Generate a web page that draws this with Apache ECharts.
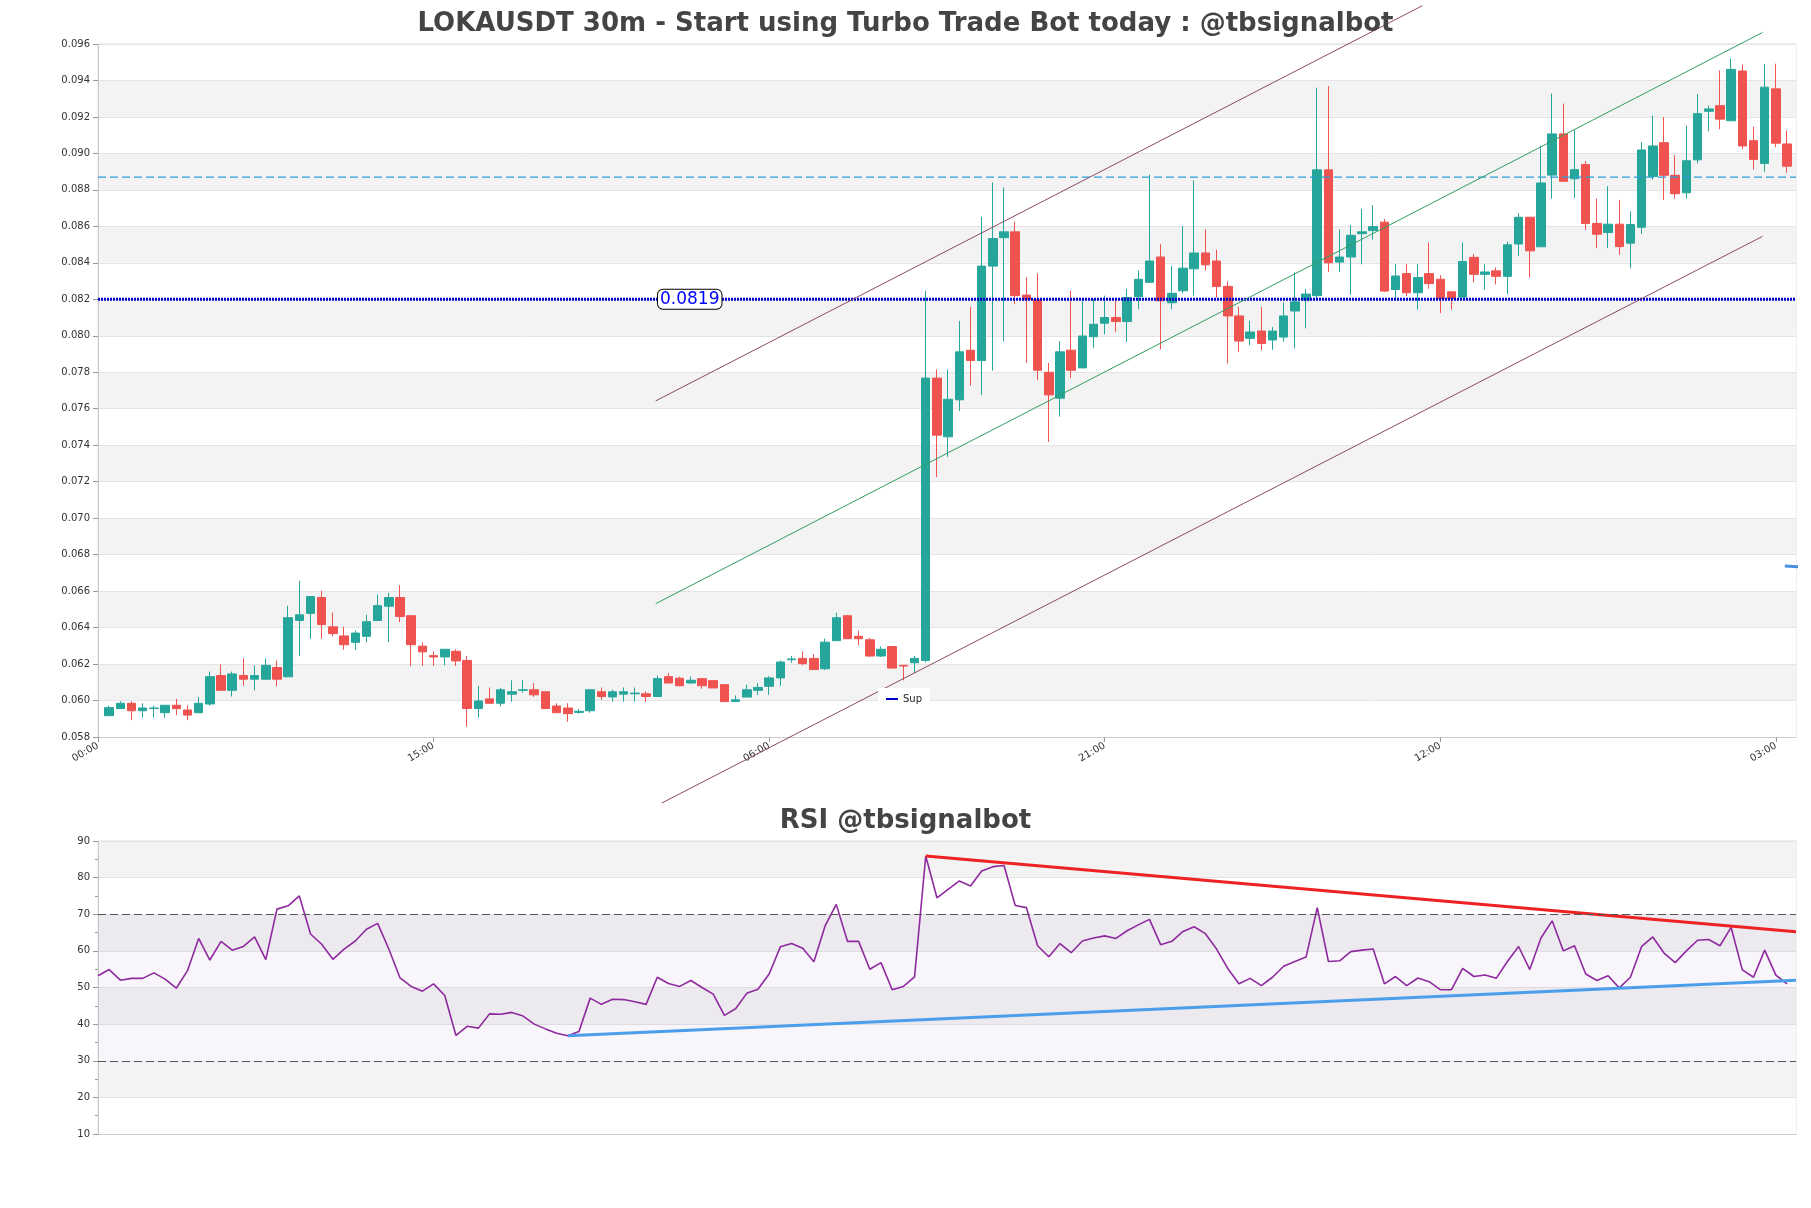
<!DOCTYPE html>
<html>
<head>
<meta charset="utf-8">
<script src="https://cdn.jsdelivr.net/npm/echarts@6/dist/echarts.min.js"></script>
<style>html,body{margin:0;padding:0;background:#fff}#main{width:1811px;height:1208px}</style>
</head>
<body>
<div id="main"></div>
<script>
// candles, 30m, first candle at 00:30 on the first day
var opens = [.05917,.05956,.05985,.05944,.05956,.05933,.05974,.05948,.05933,.05981,.06137,.06056,.06137,.06117,.06117,.06181,.0613,.06439,.06478,.06565,
.06404,.06354,.06319,.06352,.06439,.06517,.06565,.06465,.06298,.06246,.06239,.0627,.0622,.05956,.06009,.05985,.06035,.06056,.06059,.06048,
.0597,.05959,.05935,.05944,.06048,.0602,.06035,.06037,.06037,.06022,.06131,.06122,.06096,.0612,.06109,.06087,.05995,.06019,.06056,.06078,
.06124,.06224,.06231,.06231,.06174,.06328,.06465,.06352,.06333,.06244,.06296,.06193,.06207,.0622,
.07768,.07446,.07649,.07921,.07864,.08382,.08538,.0857,.08223,.08198,.078,.07658,.07921,.07824,.07995,.08069,.081,.08078,.08214,.08293,
.08432,.08181,.08247,.08367,.08454,.0841,.08271,.08109,.07986,.08026,.07977,.07993,.08136,.08196,.0822,.0891,.08404,.08432,.0856,.08577,
.08623,.08254,.08341,.08236,.08341,.0831,.08241,.08212,.0843,.08337,.08356,.08326,.08503,.0865,.08488,.08881,.09107,.08861,.08939,.08616,
.08566,.08612,.08508,.08595,.08874,.09059,.0888,.08784,.08965,.09231,.09262,.09179,.09452,.0907,.08945,.09354,.09052];
var closes = [.05961,.05985,.05944,.05959,.05959,.05974,.05956,.0592,.05985,.06131,.06056,.06146,.06117,.06137,.06193,.06117,.06454,.0647,.0657,.06417,
.06367,.06306,.0637,.06432,.0652,.06565,.06461,.06306,.06267,.06239,.06281,.06217,.05956,.05998,.05985,.06059,.06048,.06059,.06031,.05956,
.05933,.05928,.05941,.06059,.06022,.06048,.06048,.06041,.06022,.0612,.06096,.06081,.06111,.06081,.06069,.05994,.06004,.06059,.06072,.06124,
.06211,.06228,.06202,.0617,.0632,.06454,.06339,.06339,.06244,.06281,.06178,.06189,.06231,.07768,
.07455,.07652,.07912,.07864,.08382,.08533,.0857,.0822,.08198,.07811,.07676,.07912,.07811,.07999,.08063,.081,.08078,.0821,.0831,.0841,
.08192,.08233,.08371,.08454,.08389,.0827,.08109,.07971,.08021,.07958,.08026,.08109,.08186,.08229,.0891,.0840,.08432,.08551,.0857,.08599,
.08245,.08328,.08236,.08319,.08286,.08205,.08205,.08407,.08337,.0835,.08326,.08499,.0865,.08466,.08838,.09107,.08847,.08911,.08616,.08557,
.08612,.08489,.0861,.09019,.09041,.0888,.08779,.0896,.09218,.09244,.09188,.09461,.09041,.08967,.09363,.09056,.0893];
var lows = [.05917,.05956,.05893,.05906,.05906,.05906,.0592,.05893,.05933,.05972,.06056,.06022,.06081,.06056,.06117,.06078,.0613,.06244,.06339,.06339,
.06352,.06278,.06278,.06319,.06439,.0632,.0643,.06189,.06189,.06189,.06193,.06189,.05856,.05906,.05985,.05967,.05994,.06044,.0602,.05956,
.05933,.05883,.05928,.05933,.06004,.05994,.05994,.05994,.05994,.06022,.06096,.06078,.06093,.06065,.06069,.05994,.05994,.06019,.06031,.06031,
.06081,.06207,.06193,.06167,.06167,.06328,.06339,.06304,.06239,.06239,.06178,.06111,.06152,.0621,
.07225,.07336,.07588,.07726,.07676,.07809,.0797,.08174,.07851,.07756,.07418,.07557,.07768,.07824,.07934,.08008,.08022,.07966,.08146,.08293,
.07925,.08146,.08233,.0822,.08358,.0821,.07848,.07911,.07949,.07921,.07923,.07969,.0793,.08041,.0820,.08349,.08349,.08225,.08392,.08528,
.08241,.08199,.08217,.08144,.08258,.08125,.08143,.08212,.08293,.08254,.08282,.08228,.08437,.08319,.08488,.08752,.08847,.08755,.0858,.08481,
.08481,.08444,.08371,.08558,.08856,.08745,.08751,.08751,.08946,.09122,.09133,.09179,.09023,.08912,.08899,.09034,.08894];
var highs = [.05972,.05996,.05996,.05985,.05972,.05974,.06009,.05974,.0602,.06159,.06198,.06159,.06231,.06193,.06231,.0622,.0652,.06656,.0657,.06602,
.06482,.06404,.06383,.0647,.06581,.06591,.06633,.06465,.06319,.0627,.06281,.06281,.06244,.06081,.06072,.06069,.06111,.06111,.06096,.06048,
.05985,.05985,.05954,.06059,.06072,.06059,.06072,.06072,.0605,.06137,.0615,.06131,.06131,.0612,.06109,.06087,.06028,.06087,.06096,.06133,
.0622,.06244,.0627,.06254,.06339,.06482,.0647,.06383,.06343,.06296,.06296,.06193,.06244,.08247,
.07815,.07815,.08082,.08159,.08653,.08841,.08813,.08625,.08321,.08343,.07851,.07971,.08247,.08207,.08201,.0822,.08192,.08257,.08358,.08883,
.08502,.08382,.08601,.08852,.08583,.08472,.08299,.08159,.08082,.08159,.08048,.08183,.08348,.08257,.0936,.0937,.08583,.08607,.08696,.08717,
.08641,.08393,.08393,.08393,.08512,.08332,.08241,.08512,.08449,.08393,.08374,.08517,.08672,.0865,.09042,.09328,.09273,.09127,.08958,.08752,
.0882,.08745,.08683,.09061,.09208,.09199,.0899,.09153,.09326,.09262,.09455,.0952,.09488,.09146,.0949,.09492,.09125];

// RSI, one point per candle, first point one bar before the first candle
var rsi = [53.2,54.9,52.0,52.5,52.5,54.0,52.3,49.8,54.6,63.4,57.5,62.6,60.2,61.2,63.8,57.6,71.4,72.3,75.0,64.6,
61.8,57.7,60.5,62.7,65.9,67.5,60.5,52.6,50.3,49.0,51.0,47.8,36.9,39.4,38.9,42.8,42.7,43.2,42.2,40.0,
38.7,37.5,36.8,38.0,47.1,45.4,46.8,46.7,46.1,45.4,52.8,51.1,50.3,51.9,50.0,48.2,42.4,44.2,48.4,49.5,
53.7,61.1,62.0,60.7,57.0,66.8,72.7,62.6,62.6,55.0,56.8,49.4,50.3,52.9,85.9,74.5,76.8,79.1,77.7,
81.8,83.0,83.3,72.4,71.8,61.4,58.4,62.0,59.5,62.7,63.5,64.1,63.4,65.5,67.1,68.6,61.7,62.6,65.3,66.6,
64.7,60.5,55.2,51.0,52.5,50.5,52.8,55.8,57.1,58.3,71.8,57.1,57.3,59.8,60.2,60.5,51.0,
53.0,50.5,52.6,51.6,49.4,49.4,55.2,53.0,53.4,52.5,57.1,61.2,54.9,63.5,68.2,60.0,61.4,53.7,51.9,53.2,
49.9,52.8,61.2,63.8,59.4,56.8,60.0,62.9,63.1,61.4,66.4,54.8,52.8,60.2,53.4,51.0];

var supLevel = 0.0820;
var supLabel = '0.0819';
var resLevel = 0.0887;
var channelUpper = [[24.93, 0.07643], [59.2, 0.09810]];
var channelMid = [[24.93, 0.06531], [74.4, 0.09663]];
var channelLower = [[25.2, 0.05438], [74.4, 0.08545]];
var edgeMark = [[75.4, 0.06737], [76.4, 0.06732]];
var rsiDown = [[37.0, 85.9], [75.9, 65.2]];
var rsiUp = [[21.0, 36.8], [75.9, 52.0]];

var candleData = [];
for (var i = 0; i < opens.length; i++) {
    candleData.push([0.5 + 0.5 * i, opens[i], closes[i], lows[i], highs[i]]);
}
var rsiData = [];
for (var j = 0; j < rsi.length; j++) {
    rsiData.push([0.5 * j, rsi[j]]);
}

function hourLabel(v) {
    var h = Math.round(v) % 24;
    return (h < 10 ? '0' : '') + h + ':00';
}

var myChart = echarts.init(document.getElementById('main'));
var font = 'DejaVu Sans';
var axisCommon = {
    axisLine: {show: true, lineStyle: {color: '#ccc'}},
    axisTick: {lineStyle: {color: '#999'}},
    axisLabel: {color: '#333', fontFamily: font, fontSize: 10},
    splitLine: {show: true, lineStyle: {color: '#e4e4e4'}}
};

myChart.setOption({
    animation: false,
    backgroundColor: '#fff',
    title: [
        {text: 'LOKAUSDT 30m - Start using Turbo Trade Bot today : @tbsignalbot', left: 'center', top: 6,
            textStyle: {fontFamily: font, fontSize: 26, fontWeight: 'bold', color: '#444'}},
        {text: 'RSI @tbsignalbot', left: 'center', top: 803,
            textStyle: {fontFamily: font, fontSize: 26, fontWeight: 'bold', color: '#444'}}
    ],
    legend: {
        data: [{name: 'Sup', icon: 'rect', itemStyle: {color: '#0000cc'}}],
        left: 878, top: 688, itemWidth: 12, itemHeight: 2,
        backgroundColor: '#fff', padding: [6, 8],
        textStyle: {fontFamily: font, fontSize: 10, color: '#222'}
    },
    grid: [
        {left: 98, right: 15, top: 44, height: 693, show: true, borderColor: '#ddd', backgroundColor: 'transparent'},
        {left: 98, right: 15, top: 841, height: 293, show: true, borderColor: '#ddd', backgroundColor: 'transparent'}
    ],
    xAxis: [
        Object.assign({}, axisCommon, {type: 'value', gridIndex: 0, min: 0, max: 75.9, interval: 15,
            splitLine: {show: false},
            axisLabel: {color: '#333', fontFamily: font, fontSize: 10, rotate: 30, formatter: hourLabel, showMaxLabel: false}}),
        Object.assign({}, axisCommon, {type: 'value', gridIndex: 1, min: 0, max: 75.9, interval: 15,
            splitLine: {show: false}, axisLabel: {show: false}, axisTick: {show: false}})
    ],
    yAxis: [
        Object.assign({}, axisCommon, {type: 'value', gridIndex: 0, min: 0.058, max: 0.096, interval: 0.002,
            axisLabel: {color: '#333', fontFamily: font, fontSize: 10, formatter: function (v) { return v.toFixed(3); }},
            splitArea: {show: true, areaStyle: {color: ['#ffffff', '#f3f3f3']}}}),
        Object.assign({}, axisCommon, {type: 'value', gridIndex: 1, min: 10, max: 90, interval: 10,
            minorTick: {show: true, splitNumber: 2, length: 3, lineStyle: {color: '#999'}},
            splitArea: {show: true, areaStyle: {color: ['#ffffff', '#f3f3f3']}}})
    ],
    series: [
        {
            type: 'candlestick', xAxisIndex: 0, yAxisIndex: 0, data: candleData,
            encode: {x: 0, y: [1, 2, 3, 4]}, barWidth: 9,
            itemStyle: {color: '#26a69a', color0: '#ef5350', borderColor: '#26a69a', borderColor0: '#ef5350', borderWidth: 1}
        },
        {
            name: 'Sup', type: 'line', xAxisIndex: 0, yAxisIndex: 0, symbol: 'none',
            data: [[0, supLevel], [75.9, supLevel]],
            lineStyle: {color: '#0000cc', width: 3, type: [2, 1]},
            markPoint: {
                symbol: 'circle', symbolSize: 0,
                data: [{coord: [26.45, supLevel]}],
                label: {show: true, formatter: supLabel, color: '#0000ff', fontFamily: font, fontSize: 17,
                    backgroundColor: '#fff', borderColor: '#000', borderWidth: 1, borderRadius: 5, padding: [1, 2], position: 'inside'}
            }
        },
        {
            type: 'line', xAxisIndex: 0, yAxisIndex: 0, symbol: 'none',
            data: [[0, resLevel], [75.9, resLevel]],
            lineStyle: {color: '#2a9fd6', width: 1.2, type: [8, 4]}
        },
        {type: 'line', xAxisIndex: 0, yAxisIndex: 0, symbol: 'none', clip: false, data: channelUpper,
            lineStyle: {color: '#8b4a62', width: 1}},
        {type: 'line', xAxisIndex: 0, yAxisIndex: 0, symbol: 'none', clip: false, data: channelMid,
            lineStyle: {color: '#2e9e5e', width: 1}},
        {type: 'line', xAxisIndex: 0, yAxisIndex: 0, symbol: 'none', clip: false, data: channelLower,
            lineStyle: {color: '#8b4a62', width: 1}},
        {type: 'line', xAxisIndex: 0, yAxisIndex: 0, symbol: 'none', clip: false,
            data: edgeMark, lineStyle: {color: '#4a90e2', width: 3}},
        {
            type: 'line', xAxisIndex: 1, yAxisIndex: 1, symbol: 'none', data: rsiData,
            lineStyle: {color: '#8e2a9e', width: 1.6},
            markArea: {silent: true, itemStyle: {color: 'rgba(150,110,200,0.07)'}, data: [[{yAxis: 30}, {yAxis: 70}]]},
            markLine: {silent: true, symbol: 'none', label: {show: false},
                lineStyle: {color: '#555', type: [8, 4], width: 1.2},
                data: [{yAxis: 30}, {yAxis: 70}]}
        },
        {type: 'line', xAxisIndex: 1, yAxisIndex: 1, symbol: 'none', data: rsiDown,
            lineStyle: {color: '#ee2222', width: 3}},
        {type: 'line', xAxisIndex: 1, yAxisIndex: 1, symbol: 'none', data: rsiUp,
            lineStyle: {color: '#4a9eea', width: 3}}
    ]
});
</script>
</body>
</html>
